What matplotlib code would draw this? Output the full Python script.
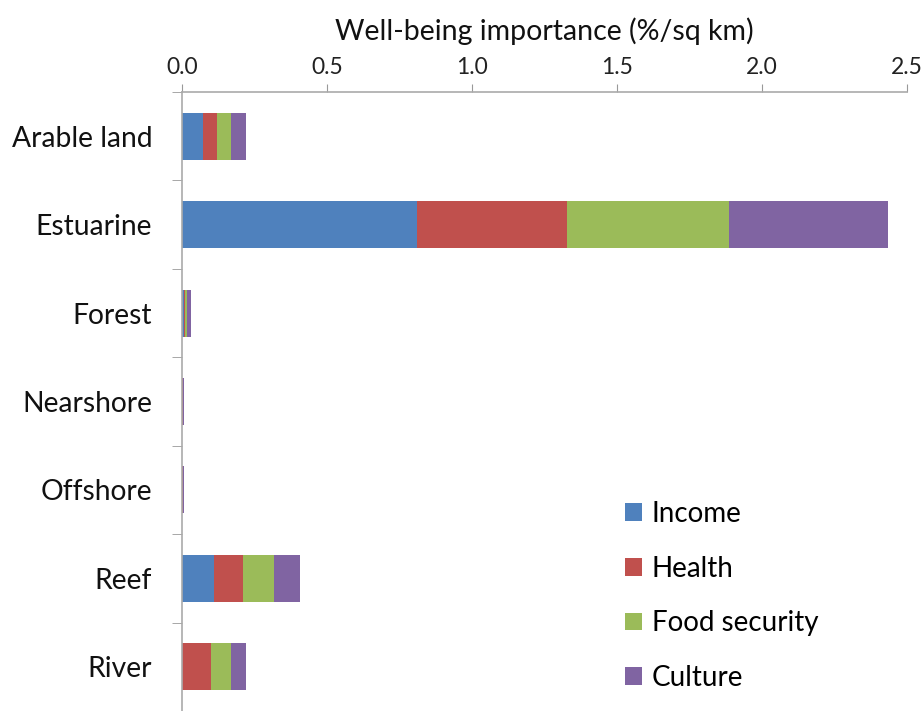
import matplotlib
matplotlib.use("Agg")
import matplotlib.pyplot as plt
from matplotlib.patches import Patch
import numpy as np

plt.rcParams['font.family'] = ['Lato', 'DejaVu Sans']

categories = ["Arable land", "Estuarine", "Forest", "Nearshore", "Offshore", "Reef", "River"]
income = [0.072, 0.810, 0.008, 0.001, 0.001, 0.109, 0.0]
health = [0.047, 0.517, 0.004, 0.001, 0.001, 0.101, 0.100]
food_security = [0.049, 0.559, 0.004, 0.001, 0.001, 0.108, 0.070]
culture = [0.054, 0.548, 0.014, 0.004, 0.003, 0.089, 0.051]
series_names = ["Income", "Health", "Food security", "Culture"]
colors = ["#4F81BD", "#C0504D", "#9BBB59", "#8064A2"]

W, H = 924, 711
fig = plt.figure(figsize=(W / 100, H / 100), dpi=100)
ax = fig.add_axes([182 / W, 0, (907 - 182) / W, (711 - 92) / H])

y = np.arange(len(categories))
left = np.zeros(len(categories))
for vals, name, c in zip([income, health, food_security, culture], series_names, colors):
    vals = np.array(vals)
    ax.barh(y, vals, left=left, height=0.53, color=c, label=name, linewidth=0)
    left += vals

ax.set_xlim(0, 2.5)
ax.set_ylim(6.5 - 7 / 89.4, -0.5)

ax.xaxis.tick_top()
ax.xaxis.set_label_position("top")
ax.set_xticks(np.arange(0, 2.51, 0.5))
ax.set_xticklabels([f"{v:.1f}" for v in np.arange(0, 2.51, 0.5)], fontsize=16.5, color="#222222")
ax.set_xlabel("Well-being importance (%/sq km)", fontsize=20.5, labelpad=12, color="#111111")
ax.tick_params(axis="x", direction="out", length=6, color="#999999", pad=4)

ax.set_yticks(y)
ax.set_yticklabels(categories, fontsize=20.3, color="#111111")
ax.set_yticks(np.arange(-0.5, 7.0, 1.0), minor=True)
ax.tick_params(axis="y", which="major", length=0, pad=21.5)
ax.tick_params(axis="y", which="minor", length=7, color="#999999")

for s in ["right", "bottom"]:
    ax.spines[s].set_visible(False)
for s in ["top", "left"]:
    ax.spines[s].set_color("#AAAAAA")
    ax.spines[s].set_linewidth(1.2)

handles = [Patch(facecolor=c, label=n) for n, c in zip(series_names, colors)]
fig.legend(handles=handles, loc="upper left", bbox_to_anchor=(614 / W, 1 - 490 / H),
           frameon=False, fontsize=20, handlelength=0.61, handleheight=0.61,
           handletextpad=0.35, labelspacing=1.03, borderaxespad=0)

fig.savefig("out.png", dpi=100)
